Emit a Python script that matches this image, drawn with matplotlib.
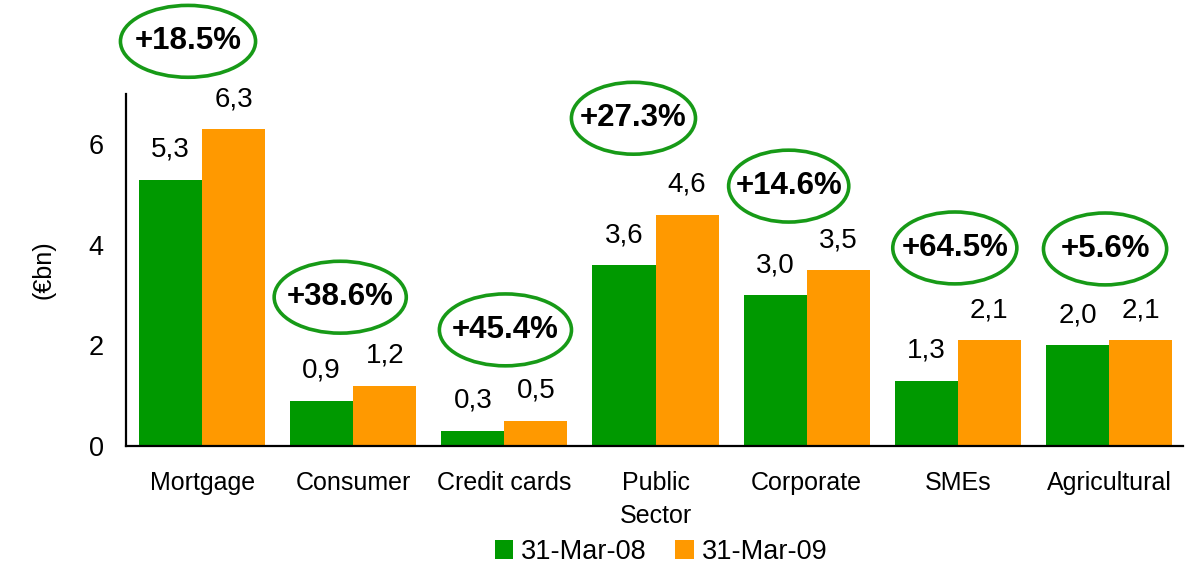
import numpy as np
import matplotlib
matplotlib.use("Agg")
from matplotlib import pyplot as plt
from matplotlib.patches import Ellipse

plt.rcParams['font.family'] = ['Liberation Sans', 'DejaVu Sans']

categories = ["Mortgage", "Consumer", "Credit cards", "Public\nSector", "Corporate", "SMEs", "Agricultural"]
values_2008 = [5.3, 0.9, 0.3, 3.6, 3.0, 1.3, 2.0]
values_2009 = [6.3, 1.2, 0.5, 4.6, 3.5, 2.1, 2.1]
growth_labels = ["+18.5%", "+38.6%", "+45.4%", "+27.3%", "+14.6%", "+64.5%", "+5.6%"]
# ellipse centres (x in category units, y in €bn) and widths
bubble_x = [-0.093, 0.914, 2.007, 2.854, 3.881, 4.98, 5.974]
bubble_y = [8.05, 2.96, 2.31, 6.52, 5.17, 3.94, 3.92]
bubble_w = [0.894, 0.874, 0.874, 0.821, 0.795, 0.821, 0.815]

GREEN = "#009900"
ORANGE = "#FF9900"
RING = "#179A17"


def fmt(v):
    return f"{v:.1f}".replace(".", ",")


def main():
    fig = plt.figure(figsize=(11.89, 5.67), dpi=100)
    ax = fig.add_axes([0.106, 0.2134, 0.889, 0.6206])

    x = np.arange(len(categories))
    w = 0.417
    b1 = ax.bar(x - w / 2, values_2008, w, color=GREEN, label="31-Mar-08")
    b2 = ax.bar(x + w / 2, values_2009, w, color=ORANGE, label="31-Mar-09")

    for bars, vals in ((b1, values_2008), (b2, values_2009)):
        for rect, v in zip(bars, vals):
            ax.annotate(fmt(v), (rect.get_x() + rect.get_width() / 2, v),
                        xytext=(0, 23), textcoords="offset pixels",
                        ha="center", va="baseline", fontsize=20)

    for bx, by, bw, txt in zip(bubble_x, bubble_y, bubble_w, growth_labels):
        ax.add_patch(Ellipse((bx, by), bw, 1.43, fill=False, edgecolor=RING,
                             linewidth=2.6, clip_on=False))
        ax.text(bx, by, txt, ha="center", va="center", fontsize=22.5,
                fontweight="bold", clip_on=False)

    ax.set_xlim(-0.503, 6.49)
    ax.set_ylim(0, 7)
    ax.set_yticks([0, 2, 4, 6])
    ax.set_xticks(x)
    ax.set_xticklabels(categories, fontsize=18, linespacing=1.45)
    ax.tick_params(axis="x", length=0, pad=18)
    ax.tick_params(axis="y", length=0, pad=16, labelsize=19.5)
    ax.set_ylabel("(€bn)", fontsize=18, labelpad=24)

    for side in ("top", "right"):
        ax.spines[side].set_visible(False)
    ax.spines["left"].set_linewidth(1.6)
    ax.spines["bottom"].set_linewidth(1.6)

    handles, labels = ax.get_legend_handles_labels()
    fig.legend(handles, labels, loc="center", bbox_to_anchor=(661 / 1189, 1 - 552 / 567), ncol=2,
               frameon=False, fontsize=19.5, handlelength=0.68, handleheight=0.68,
               handletextpad=0.3, columnspacing=1.05, borderpad=0)

    fig.savefig("out.png", dpi=100)


if __name__ == "__main__":
    main()
